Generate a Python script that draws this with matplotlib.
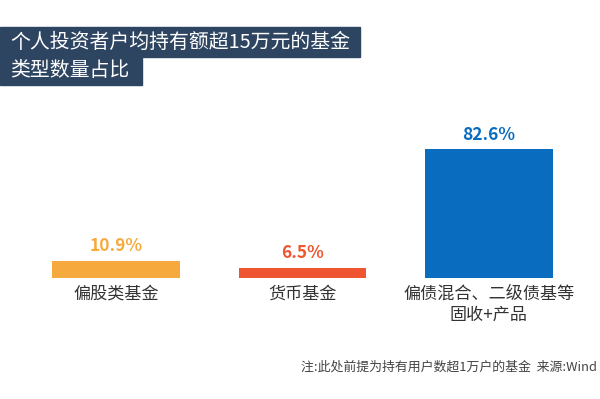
import matplotlib
matplotlib.use("Agg")
import matplotlib.pyplot as plt
from matplotlib.patches import Rectangle

plt.rcParams['font.family'] = ['Noto Sans CJK SC', 'DejaVu Sans']

# data
categories = ['偏股类基金', '货币基金', '偏债混合、二级债基等\n固收+产品']
values = [10.9, 6.5, 82.6]
value_labels = ['10.9%', '6.5%', '82.6%']
colors = ['#f6aa3e', '#ee5530', '#0a6cbf']
title_lines = ['个人投资者户均持有额超15万元的基金', '类型数量占比']
note = '注:此处前提为持有用户数超1万户的基金  来源:Wind'

W, H = 600, 399
fig = plt.figure(figsize=(W / 100, H / 100), dpi=100)
fig.patch.set_facecolor('white')

# axes: baseline at y=278px, 1.56 px per unit
ax = fig.add_axes([23 / W, (H - 278) / H, 559 / W, 156 / H])
ax.bar(range(len(values)), values, width=0.686, color=colors)
ax.set_xlim(-0.5, 2.5)
ax.set_ylim(0, 100)
ax.axis('off')

for i, (v, lab, c) in enumerate(zip(values, value_labels, colors)):
    ax.annotate(lab, (i, v), xytext=(0, 4), textcoords='offset points',
                ha='center', va='bottom', fontsize=12.5, fontweight='bold', color=c)
    ax.annotate(categories[i], (i, 0), xytext=(0, -5), textcoords='offset points',
                ha='center', va='top', fontsize=12.3, color='#333333', linespacing=1.2)

# title boxes
navy = '#2e4562'
fig.patches.append(Rectangle((0, (H - 57) / H), 360 / W, 30 / H, transform=fig.transFigure,
                             color=navy, zorder=0))
fig.patches.append(Rectangle((0, (H - 85) / H), 142 / W, 29 / H, transform=fig.transFigure,
                             color=navy, zorder=0))
fig.text(10 / W, (H - 42) / H, title_lines[0], color='white', fontsize=14.3,
         fontweight='medium', va='center', ha='left')
fig.text(10 / W, (H - 70) / H, title_lines[1], color='white', fontsize=14.3,
         fontweight='medium', va='center', ha='left')

fig.text(597 / W, (H - 367) / H, note, fontsize=9.3, color='#444444', ha='right', va='center')

fig.savefig('out.png', dpi=100, facecolor='white')
